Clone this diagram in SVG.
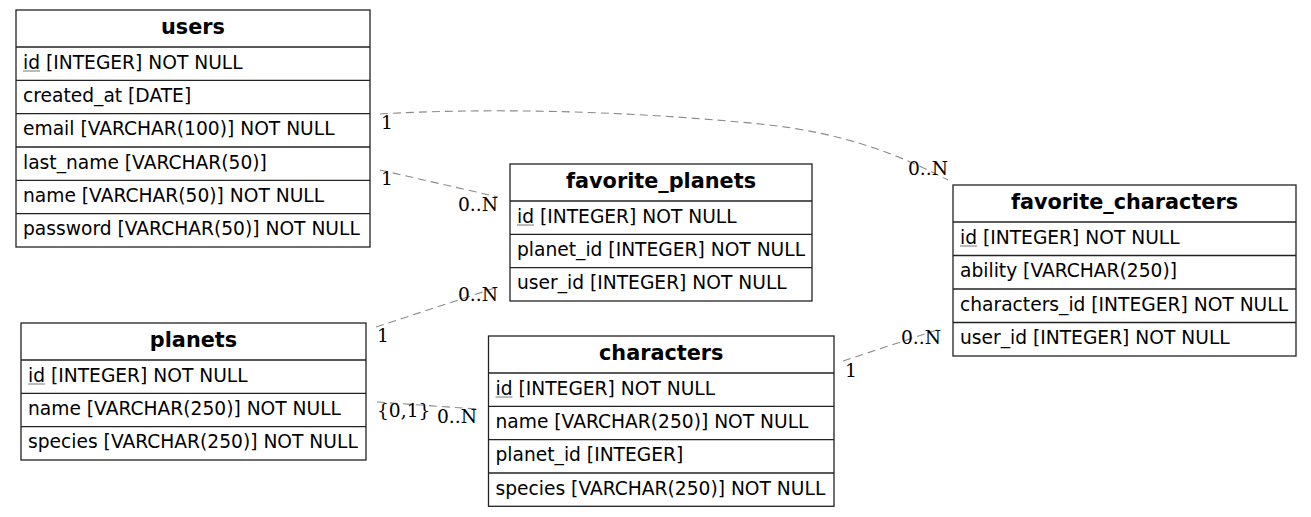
<svg xmlns="http://www.w3.org/2000/svg" width="1311" height="517" viewBox="0 0 1311 517">
<style>
  .box { fill: #ffffff; stroke: #222; stroke-width: 1.3; }
  .sep { stroke: #222; stroke-width: 1.3; }
  .hdr { font-family: "DejaVu Sans", sans-serif; font-weight: bold; font-size: 20.8px; fill: #000; text-anchor: middle; }
  .fld { font-family: "DejaVu Sans", sans-serif; font-size: 18.67px; fill: #000; }
  .ul { stroke: #777; stroke-width: 1; }
  .edge { fill: none; stroke: #8a8a8a; stroke-width: 1.1; stroke-dasharray: 8 5; }
  .card { font-family: "DejaVu Serif", serif; font-size: 18.67px; fill: #000; }
</style>
<rect x="0" y="0" width="1311" height="517" fill="#ffffff"/>

<g id="connectors">
  <path class="edge" d="M380,114 C480,108 620,110 760,124 C850,133 905,158 948,180"/>
  <path class="edge" d="M380,170 L498,197"/>
  <path class="edge" d="M376,327 L498,287"/>
  <path class="edge" d="M377,402 L477,409"/>
  <path class="edge" d="M843,361 L940,329"/>
  <text class="card" x="381" y="129">1</text>
  <text class="card" x="908" y="175">0..N</text>
  <text class="card" x="381" y="185">1</text>
  <text class="card" x="458" y="211">0..N</text>
  <text class="card" x="377" y="342">1</text>
  <text class="card" x="458" y="301">0..N</text>
  <text class="card" x="377" y="417">{0,1}</text>
  <text class="card" x="437" y="423">0..N</text>
  <text class="card" x="845" y="377">1</text>
  <text class="card" x="901" y="344">0..N</text>
</g>

<g id="users">
  <rect class="box" x="16" y="10" width="354" height="237"/>
  <line class="sep" x1="16" y1="47" x2="370" y2="47"/>
  <line class="sep" x1="16" y1="80.33" x2="370" y2="80.33"/>
  <line class="sep" x1="16" y1="113.67" x2="370" y2="113.67"/>
  <line class="sep" x1="16" y1="147" x2="370" y2="147"/>
  <line class="sep" x1="16" y1="180.33" x2="370" y2="180.33"/>
  <line class="sep" x1="16" y1="213.67" x2="370" y2="213.67"/>
  <text class="hdr" x="193" y="33.5">users</text>
  <text class="fld" x="23" y="68.5">id [INTEGER] NOT NULL</text>
  <line class="ul" x1="23" y1="71" x2="40" y2="71"/>
  <text class="fld" x="23" y="101.8">created_at [DATE]</text>
  <text class="fld" x="23" y="135.2">email [VARCHAR(100)] NOT NULL</text>
  <text class="fld" x="23" y="168.5">last_name [VARCHAR(50)]</text>
  <text class="fld" x="23" y="201.8">name [VARCHAR(50)] NOT NULL</text>
  <text class="fld" x="23" y="235.2">password [VARCHAR(50)] NOT NULL</text>
</g>

<g id="favorite_planets">
  <rect class="box" x="510" y="164" width="302" height="137"/>
  <line class="sep" x1="510" y1="201" x2="812" y2="201"/>
  <line class="sep" x1="510" y1="234.3" x2="812" y2="234.3"/>
  <line class="sep" x1="510" y1="267.7" x2="812" y2="267.7"/>
  <text class="hdr" x="661" y="187.5">favorite_planets</text>
  <text class="fld" x="517" y="222.5">id [INTEGER] NOT NULL</text>
  <line class="ul" x1="517" y1="225" x2="534" y2="225"/>
  <text class="fld" x="517" y="255.8">planet_id [INTEGER] NOT NULL</text>
  <text class="fld" x="517" y="289.2">user_id [INTEGER] NOT NULL</text>
</g>

<g id="favorite_characters">
  <rect class="box" x="953" y="185" width="343" height="171"/>
  <line class="sep" x1="953" y1="222" x2="1296" y2="222"/>
  <line class="sep" x1="953" y1="255.5" x2="1296" y2="255.5"/>
  <line class="sep" x1="953" y1="289" x2="1296" y2="289"/>
  <line class="sep" x1="953" y1="322.5" x2="1296" y2="322.5"/>
  <text class="hdr" x="1124.5" y="208.5">favorite_characters</text>
  <text class="fld" x="960" y="243.5">id [INTEGER] NOT NULL</text>
  <line class="ul" x1="960" y1="246" x2="977" y2="246"/>
  <text class="fld" x="960" y="277">ability [VARCHAR(250)]</text>
  <text class="fld" x="960" y="310.5">characters_id [INTEGER] NOT NULL</text>
  <text class="fld" x="960" y="344">user_id [INTEGER] NOT NULL</text>
</g>

<g id="planets">
  <rect class="box" x="21" y="323" width="345" height="137"/>
  <line class="sep" x1="21" y1="360" x2="366" y2="360"/>
  <line class="sep" x1="21" y1="393.3" x2="366" y2="393.3"/>
  <line class="sep" x1="21" y1="426.7" x2="366" y2="426.7"/>
  <text class="hdr" x="193.5" y="346.5">planets</text>
  <text class="fld" x="28" y="381.5">id [INTEGER] NOT NULL</text>
  <line class="ul" x1="28" y1="384" x2="45" y2="384"/>
  <text class="fld" x="28" y="414.8">name [VARCHAR(250)] NOT NULL</text>
  <text class="fld" x="28" y="448.2">species [VARCHAR(250)] NOT NULL</text>
</g>

<g id="characters">
  <rect class="box" x="488.5" y="336" width="345.5" height="170.3"/>
  <line class="sep" x1="488.5" y1="373" x2="834" y2="373"/>
  <line class="sep" x1="488.5" y1="406.3" x2="834" y2="406.3"/>
  <line class="sep" x1="488.5" y1="439.7" x2="834" y2="439.7"/>
  <line class="sep" x1="488.5" y1="473" x2="834" y2="473"/>
  <text class="hdr" x="661.25" y="359.5">characters</text>
  <text class="fld" x="495.5" y="394.5">id [INTEGER] NOT NULL</text>
  <line class="ul" x1="495.5" y1="397" x2="512.5" y2="397"/>
  <text class="fld" x="495.5" y="427.8">name [VARCHAR(250)] NOT NULL</text>
  <text class="fld" x="495.5" y="461.2">planet_id [INTEGER]</text>
  <text class="fld" x="495.5" y="494.5">species [VARCHAR(250)] NOT NULL</text>
</g>
</svg>
